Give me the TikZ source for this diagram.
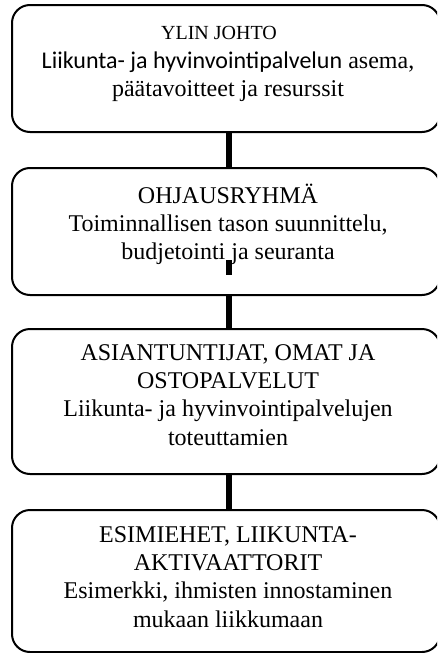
\documentclass[tikz,border=0pt]{standalone}
\usepackage{fontspec}
\setmainfont{Liberation Serif}
\newfontfamily\calibri{Carlito}
\begin{document}
\begin{tikzpicture}[x=1pt,y=-1pt,
  box/.style={draw=black,line width=2pt,rounded corners=18pt,rectangle,
    minimum width=428pt,inner sep=0pt},
  txt/.style={anchor=base,inner sep=0pt,font=\fontsize{24}{28}\selectfont},
  small/.style={anchor=base,inner sep=0pt,font=\fontsize{20}{24}\selectfont},
  link/.style={line width=5.5pt}]
\useasboundingbox (0,0) rectangle (437,653);
\clip (0,0) rectangle (437,653);

% the four levels
\node[box,minimum height=127pt] (b1) at (226,68.5) {};
\node[box,minimum height=127pt] (b2) at (226,231.5) {};
\node[box,minimum height=145pt] (b3) at (226,401.5) {};
\node[box,minimum height=142pt] (b4) at (226,581) {};

% connectors between the levels
\draw[link] ([xshift=3pt]b1.south) -- ([xshift=3pt]b2.north);
\draw[link] ([xshift=3pt]b2.south) -- ([xshift=3pt]b3.north);
\draw[link] ([xshift=3pt]b3.south) -- ([xshift=3pt]b4.north);
% short stray stroke inside the second box
\coordinate (s1) at (229,260);
\coordinate (s2) at (229,275);
\draw[link] (s1) -- (s2);

% texts
\node[small] (t1a) at (219,39.3) {YLIN JOHTO};
\node[txt] (t1b) at (228,68) {{\calibri Liikunta- ja hyvinvointipalvelun} asema,};
\node[txt] (t1c) at (228,96.7) {päätavoitteet ja resurssit};

\node[txt] (t2a) at (228,203.5) {OHJAUSRYHMÄ};
\node[txt] (t2b) at (228,231.5) {Toiminnallisen tason suunnittelu,};
\node[txt] (t2c) at (228,259) {budjetointi ja seuranta};

\node[txt] (t3a) at (228,360) {ASIANTUNTIJAT, OMAT JA};
\node[txt] (t3b) at (228,388.3) {OSTOPALVELUT};
\node[txt] (t3c) at (228,416.7) {Liikunta- ja hyvinvointipalvelujen};
\node[txt] (t3d) at (228,445) {toteuttamien};

\node[txt] (t4a) at (228,542) {ESIMIEHET, LIIKUNTA-};
\node[txt] (t4b) at (228,570.3) {AKTIVAATTORIT};
\node[txt] (t4c) at (228,598.6) {Esimerkki, ihmisten innostaminen};
\node[txt] (t4d) at (228,627) {mukaan liikkumaan};
\end{tikzpicture}
\end{document}
